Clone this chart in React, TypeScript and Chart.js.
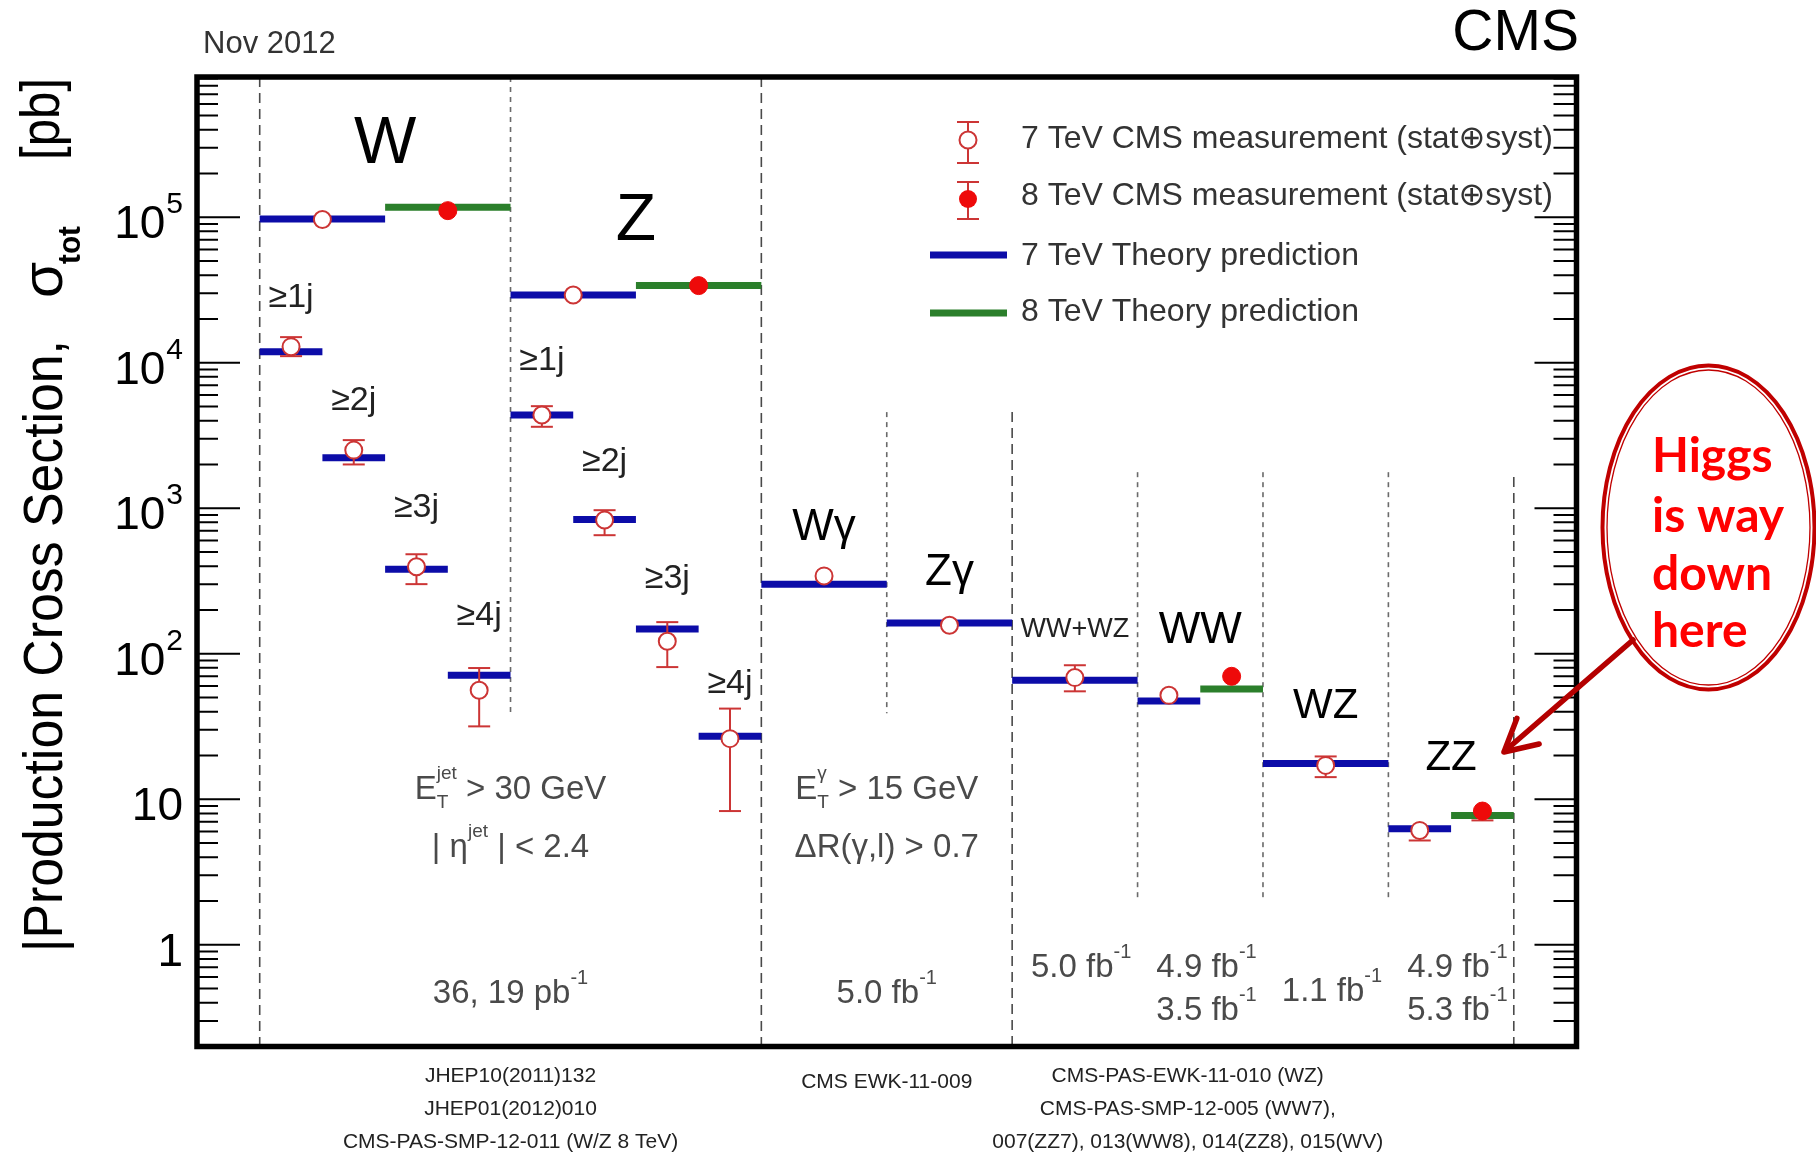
import React, { useEffect, useRef } from "react";
import { Chart, registerables } from "chart.js";

Chart.register(...registerables);

const SANS = '"Liberation Sans", Arial, Helvetica, "DejaVu Sans", sans-serif';

// ---------------- data ----------------
// x is measured in half-slot units: W/Z jet bins are 1 wide, diboson slots are 2 wide.
const processNames7 = ["W", "W ≥1j", "W ≥2j", "W ≥3j", "W ≥4j", "Z", "Z ≥1j", "Z ≥2j", "Z ≥3j", "Z ≥4j", "Wγ", "Zγ", "WW+WZ", "WW", "WZ", "ZZ"];

// 7 TeV theory predictions [pb] and the x range they span
const theory7Lo = [0, 0, 1, 2, 3, 4, 4, 5, 6, 7, 8, 10, 12, 14, 16, 18];
const theory7Hi = [2, 1, 2, 3, 4, 6, 5, 6, 7, 8, 10, 12, 14, 15, 18, 19];
const theory7Value = [9.73e4, 1.19e4, 2.22e3, 381, 71.1, 2.92e4, 4.37e3, 837, 148, 27.1, 301, 163, 65.8, 47.3, 17.6, 6.28];

// 7 TeV CMS measurements [pb] with stat+syst bounds
const meas7X = [1, 0.5, 1.5, 2.5, 3.5, 5, 4.5, 5.5, 6.5, 7.5, 9, 11, 13, 14.5, 17, 18.5];
const meas7Value = [9.65e4, 1.29e4, 2.51e3, 396, 56.1, 2.92e4, 4.37e3, 830, 122, 26.1, 343, 157, 68.6, 51.8, 17.1, 6.11];
const meas7Low = [9.3e4, 1.11e4, 2.0e3, 301, 31.7, 2.83e4, 3.63e3, 653, 81, 8.3, 312, 141, 55.2, 46.6, 14.2, 5.21];
const meas7High = [1.0e5, 1.5e4, 2.94e3, 483, 79.8, 3.02e4, 5.03e3, 970, 165, 42, 375, 175, 83.4, 57.7, 19.7, 6.97];

// 8 TeV
const processNames8 = ["W", "Z", "WW", "ZZ"];
const theory8Lo = [2, 6, 15, 19];
const theory8Hi = [4, 8, 16, 20];
const theory8Value = [1.17e5, 3.39e4, 57.3, 7.75];
const meas8X = [3, 7, 15.5, 19.5];
const meas8Value = [1.11e5, 3.39e4, 70, 8.3];
const meas8Low = [1.07e5, 3.3e4, 61.7, 7.16];
const meas8High = [1.15e5, 3.5e4, 79, 9.57];

// y axis labels (base, exponent)
const yTickValues = [1, 10, 100, 1e3, 1e4, 1e5];
const yTickBase = ["1", "10", "10", "10", "10", "10"];
const yTickExp = ["", "", "2", "3", "4", "5"];

const Y_MIN = 0.2;
const Y_MAX = 9.2e5;

// ---------------- decoration tables ----------------
const COL_BLUE = "#0c0ca8";
const COL_GREEN = "#2b7f2b";
const COL_RED_LINE = "#cc3535";
const COL_RED_FILL = "#ee0a0a";

// slot separators: null top/bottom means the frame edge
const separators = [
  { x: 0, top: null, bottom: null, dashed: true },
  { x: 4, top: null, bottom: 39, dashed: false },
  { x: 8, top: null, bottom: null, dashed: true },
  { x: 10, top: 4.58e3, bottom: 39, dashed: false },
  { x: 12, top: 4.58e3, bottom: null, dashed: true },
  { x: 14, top: 1.77e3, bottom: 2.05, dashed: false },
  { x: 16, top: 1.77e3, bottom: 2.05, dashed: false },
  { x: 18, top: 1.77e3, bottom: 2.05, dashed: false },
  { x: 20, top: 1.64e3, bottom: null, dashed: true },
];

const processLabels = [
  { text: "W", x: 2, y: 2.37e5, size: 66, color: "#000" },
  { text: "Z", x: 6, y: 6.98e4, size: 66, color: "#000" },
  { text: "≥1j", x: 0.5, y: 2.42e4, size: 34, color: "#222" },
  { text: "≥2j", x: 1.5, y: 4.74e3, size: 34, color: "#222" },
  { text: "≥3j", x: 2.5, y: 871, size: 34, color: "#222" },
  { text: "≥4j", x: 3.5, y: 157, size: 34, color: "#222" },
  { text: "≥1j", x: 4.5, y: 8.93e3, size: 34, color: "#222" },
  { text: "≥2j", x: 5.5, y: 1.8e3, size: 34, color: "#222" },
  { text: "≥3j", x: 6.5, y: 282, size: 34, color: "#222" },
  { text: "≥4j", x: 7.5, y: 53.6, size: 34, color: "#222" },
  { text: "Wγ", x: 9, y: 604, size: 44, color: "#000" },
  { text: "Zγ", x: 11, y: 296, size: 44, color: "#000" },
  { text: "WW+WZ", x: 13, y: 130, size: 27, color: "#222" },
  { text: "WW", x: 15, y: 118, size: 44, color: "#000" },
  { text: "WZ", x: 17, y: 36, size: 42, color: "#000" },
  { text: "ZZ", x: 19, y: 15.8, size: 42, color: "#000" },
];

type Part =
  | { t: string; size: number; dy?: number; weight?: string }
  | { sub: string; sup: string; size: number; subDy: number; supDy: number };

const A = 33; // annotation font size
const sup1 = (s: string): Part => ({ t: s, size: 20, dy: -19 });

const cutNotes: { x: number; y: number; parts: Part[] }[] = [
  { x: 4, y: 10.1, parts: [{ t: "E", size: A }, { sub: "T", sup: "jet", size: 19, subDy: 9, supDy: -20 }, { t: " > 30 GeV", size: A }] },
  { x: 4, y: 3.99, parts: [{ t: "| η", size: A }, { t: "jet", size: 19, dy: -20 }, { t: " | < 2.4", size: A }] },
  { x: 4, y: 0.4, parts: [{ t: "36, 19 pb", size: A }, sup1("-1")] },
  { x: 10, y: 10.1, parts: [{ t: "E", size: A }, { sub: "T", sup: "γ", size: 19, subDy: 9, supDy: -20 }, { t: " > 15 GeV", size: A }] },
  { x: 10, y: 3.99, parts: [{ t: "ΔR(γ,l) > 0.7", size: A }] },
  { x: 10, y: 0.4, parts: [{ t: "5.0 fb", size: A }, sup1("-1")] },
  { x: 13.1, y: 0.597, parts: [{ t: "5.0 fb", size: A }, sup1("-1")] },
  { x: 15.1, y: 0.597, parts: [{ t: "4.9 fb", size: A }, sup1("-1")] },
  { x: 15.1, y: 0.302, parts: [{ t: "3.5 fb", size: A }, sup1("-1")] },
  { x: 17.1, y: 0.414, parts: [{ t: "1.1 fb", size: A }, sup1("-1")] },
  { x: 19.1, y: 0.597, parts: [{ t: "4.9 fb", size: A }, sup1("-1")] },
  { x: 19.1, y: 0.302, parts: [{ t: "5.3 fb", size: A }, sup1("-1")] },
];

const references = [
  { x: 4, dy: 35.5, text: "JHEP10(2011)132" },
  { x: 4, dy: 68.5, text: "JHEP01(2012)010" },
  { x: 4, dy: 101.5, text: "CMS-PAS-SMP-12-011 (W/Z 8 TeV)" },
  { x: 10, dy: 41.5, text: "CMS EWK-11-009" },
  { x: 14.8, dy: 35.5, text: "CMS-PAS-EWK-11-010 (WZ)" },
  { x: 14.8, dy: 68.5, text: "CMS-PAS-SMP-12-005 (WW7)," },
  { x: 14.8, dy: 101.5, text: "007(ZZ7), 013(WW8), 014(ZZ8), 015(WV)" },
];

const calloutLines = ["Higgs", "is way", "down", "here"];

// ---------------- drawing helpers ----------------
const font = (size: number, weight = "normal") => `${weight} ${size}px ${SANS}`;

function partWidth(ctx: CanvasRenderingContext2D, p: any) {
  if ("t" in p) {
    ctx.font = font(p.size, p.weight);
    return ctx.measureText(p.t).width;
  }
  ctx.font = font(p.size);
  return Math.max(ctx.measureText(p.sub).width, ctx.measureText(p.sup).width);
}

function drawRich(ctx: CanvasRenderingContext2D, parts: Part[], x: number, y: number, align: string, color: string) {
  const widths = parts.map((p) => partWidth(ctx, p));
  const total = widths.reduce((a, b) => a + b, 0);
  let cx = align === "center" ? x - total / 2 : align === "right" ? x - total : x;
  ctx.fillStyle = color;
  ctx.textAlign = "left";
  ctx.textBaseline = "alphabetic";
  parts.forEach((p: any, i) => {
    if ("t" in p) {
      ctx.font = font(p.size, p.weight);
      ctx.fillText(p.t, cx, y + (p.dy || 0));
    } else {
      ctx.font = font(p.size);
      ctx.fillText(p.sub, cx, y + p.subDy);
      ctx.fillText(p.sup, cx, y + p.supDy);
    }
    cx += widths[i];
  });
}

function drawFitted(ctx: CanvasRenderingContext2D, text: string, x: number, y: number, width: number, f: string) {
  ctx.font = f;
  const w = ctx.measureText(text).width;
  ctx.save();
  ctx.translate(x, y);
  ctx.scale(width / w, 1);
  ctx.textAlign = "left";
  ctx.fillText(text, 0, 0);
  ctx.restore();
}

function errorBar(ctx: CanvasRenderingContext2D, x: number, yHi: number, yLo: number, yMid: number, r: number) {
  ctx.beginPath();
  ctx.moveTo(x, yHi);
  ctx.lineTo(x, yLo);
  ctx.stroke();
  const cap = 11;
  if (yMid - yHi > r) {
    ctx.beginPath();
    ctx.moveTo(x - cap, yHi);
    ctx.lineTo(x + cap, yHi);
    ctx.stroke();
  }
  if (yLo - yMid > r) {
    ctx.beginPath();
    ctx.moveTo(x - cap, yLo);
    ctx.lineTo(x + cap, yLo);
    ctx.stroke();
  }
}

function segmentPoints(lo: number[], hi: number[], val: number[]) {
  const pts: { x: number; y: number | null }[] = [];
  lo.forEach((l, i) => {
    pts.push({ x: l, y: val[i] }, { x: hi[i], y: val[i] }, { x: hi[i], y: null });
  });
  return pts;
}

const plotDecor = {
  id: "plotDecor",
  beforeDatasetsDraw(chart: any) {
    const { ctx, chartArea: a, scales } = chart;
    const xs = scales.x;
    const ys = scales.y;
    ctx.save();
    ctx.fillStyle = "#fff";
    ctx.fillRect(0, 0, chart.width, chart.height);
    separators.forEach((s) => {
      const px = xs.getPixelForValue(s.x);
      const top = s.top == null ? a.top : ys.getPixelForValue(s.top);
      const bottom = s.bottom == null ? a.bottom : ys.getPixelForValue(s.bottom);
      ctx.strokeStyle = s.dashed ? "#4a4a4a" : "#6a6a6a";
      ctx.lineWidth = 1.6;
      ctx.setLineDash(s.dashed ? [10, 6] : [5, 5]);
      ctx.beginPath();
      ctx.moveTo(px, top);
      ctx.lineTo(px, bottom);
      ctx.stroke();
    });
    ctx.restore();
  },
  beforeDatasetDraw(chart: any, args: any) {
    const ds: any = chart.data.datasets[args.index];
    if (!ds.errLow) return;
    const { ctx, scales } = chart;
    const xs = scales.x;
    const ys = scales.y;
    ctx.save();
    ctx.strokeStyle = COL_RED_LINE;
    ctx.lineWidth = 2;
    ds.data.forEach((p: any, i: number) => {
      errorBar(
        ctx,
        xs.getPixelForValue(p.x),
        ys.getPixelForValue(ds.errHigh[i]),
        ys.getPixelForValue(ds.errLow[i]),
        ys.getPixelForValue(p.y),
        ds.pointRadius
      );
    });
    ctx.restore();
  },
  afterDatasetsDraw(chart: any) {
    const { ctx, chartArea: a, scales } = chart;
    const xs = scales.x;
    const ys = scales.y;
    ctx.save();

    // frame
    ctx.strokeStyle = "#000";
    ctx.lineWidth = 5.5;
    ctx.strokeRect(a.left, a.top, a.right - a.left, a.bottom - a.top);

    // log ticks on both vertical edges, pointing inwards
    ctx.lineWidth = 2;
    for (let k = -1; k <= 6; k++) {
      for (let m = 1; m <= 9; m++) {
        const v = m * Math.pow(10, k);
        if (v < Y_MIN || v > Y_MAX) continue;
        const py = ys.getPixelForValue(v);
        const left = m === 1 ? 43 : 21;
        const right = m === 1 ? 42 : 23;
        ctx.beginPath();
        ctx.moveTo(a.left, py);
        ctx.lineTo(a.left + left, py);
        ctx.moveTo(a.right, py);
        ctx.lineTo(a.right - right, py);
        ctx.stroke();
      }
    }

    // tick labels
    ctx.fillStyle = "#000";
    ctx.textBaseline = "alphabetic";
    yTickValues.forEach((v, i) => {
      const py = ys.getPixelForValue(v);
      const rx = a.left - 14;
      let baseRight = rx;
      if (yTickExp[i]) {
        ctx.font = font(30);
        ctx.textAlign = "right";
        ctx.fillText(yTickExp[i], rx, py - 4);
        baseRight = rx - ctx.measureText(yTickExp[i]).width - 1;
      }
      ctx.font = font(46);
      ctx.textAlign = "right";
      ctx.fillText(yTickBase[i], baseRight, py + 21);
    });

    // y axis title, rotated
    ctx.save();
    ctx.translate(62, 0);
    ctx.rotate(-Math.PI / 2);
    ctx.fillStyle = "#000";
    drawFitted(ctx, "|Production Cross Section,", -952, 0, 612, font(56));
    drawFitted(ctx, "σ", -298, 0, 36, font(58));
    drawFitted(ctx, "tot", -264, 18, 38, font(32, "bold"));
    drawFitted(ctx, "[pb]", -160, -3, 82, font(56));
    ctx.restore();

    // header
    ctx.fillStyle = "#333";
    ctx.font = font(31);
    ctx.textAlign = "left";
    ctx.fillText("Nov 2012", a.left + 6, 53);
    ctx.fillStyle = "#000";
    ctx.font = font(57);
    ctx.textAlign = "right";
    ctx.fillText("CMS", 1579, 50);

    // process labels
    ctx.textAlign = "center";
    processLabels.forEach((l) => {
      ctx.fillStyle = l.color;
      ctx.font = font(l.size);
      ctx.fillText(l.text, xs.getPixelForValue(l.x), ys.getPixelForValue(l.y));
    });

    // selection cuts and luminosities
    cutNotes.forEach((n) => {
      drawRich(ctx, n.parts, xs.getPixelForValue(n.x), ys.getPixelForValue(n.y), "center", "#4a4a4a");
    });

    // references below the frame
    ctx.fillStyle = "#222";
    ctx.font = font(21);
    ctx.textAlign = "center";
    references.forEach((r) => {
      ctx.fillText(r.text, xs.getPixelForValue(r.x), a.bottom + r.dy);
    });

    // legend
    const lx = 968;
    ctx.strokeStyle = COL_RED_LINE;
    ctx.lineWidth = 2;
    errorBar(ctx, lx, 122, 163, 140, 0);
    ctx.beginPath();
    ctx.arc(lx, 140, 8.5, 0, Math.PI * 2);
    ctx.fillStyle = "#fff";
    ctx.fill();
    ctx.stroke();
    errorBar(ctx, lx, 182, 219, 199, 0);
    ctx.beginPath();
    ctx.arc(lx, 199, 9, 0, Math.PI * 2);
    ctx.fillStyle = COL_RED_FILL;
    ctx.fill();
    ctx.lineWidth = 7;
    ctx.strokeStyle = COL_BLUE;
    ctx.beginPath();
    ctx.moveTo(930, 255);
    ctx.lineTo(1007, 255);
    ctx.stroke();
    ctx.strokeStyle = COL_GREEN;
    ctx.beginPath();
    ctx.moveTo(930, 313);
    ctx.lineTo(1007, 313);
    ctx.stroke();
    ctx.fillStyle = "#333";
    ctx.font = font(32);
    ctx.textAlign = "left";
    ctx.fillText("7 TeV CMS measurement (stat⊕syst)", 1021, 148);
    ctx.fillText("8 TeV CMS measurement (stat⊕syst)", 1021, 205);
    ctx.fillText("7 TeV Theory prediction", 1021, 265);
    ctx.fillText("8 TeV Theory prediction", 1021, 321);

    ctx.restore();
  },
  afterDraw(chart: any) {
    const { ctx } = chart;
    ctx.save();
    // speech bubble
    ctx.beginPath();
    ctx.ellipse(1708.5, 527.5, 106, 162, 0, 0, Math.PI * 2);
    ctx.fillStyle = "#fff";
    ctx.fill();
    ctx.strokeStyle = "#c00000";
    ctx.lineWidth = 4;
    ctx.stroke();
    ctx.beginPath();
    ctx.ellipse(1708.5, 527.5, 101.5, 157.5, 0, 0, Math.PI * 2);
    ctx.lineWidth = 1.3;
    ctx.stroke();

    ctx.fillStyle = "#ff0000";
    ctx.font = `bold 48px Lato, "Open Sans", sans-serif`;
    ctx.textAlign = "left";
    const base = [472, 532, 590, 647];
    calloutLines.forEach((t, i) => ctx.fillText(t, 1652, base[i]));

    // arrow
    const tipX = 1504;
    const tipY = 752;
    const tailX = 1633;
    const tailY = 640;
    ctx.strokeStyle = "#b40000";
    ctx.lineWidth = 5.5;
    ctx.lineCap = "round";
    ctx.beginPath();
    ctx.moveTo(tailX, tailY);
    ctx.lineTo(tipX + 2, tipY - 2);
    ctx.stroke();
    const ang = Math.atan2(tailY - tipY, tailX - tipX);
    const len = 36;
    ctx.beginPath();
    [ang - 0.49, ang + 0.49].forEach((th) => {
      ctx.moveTo(tipX, tipY);
      ctx.lineTo(tipX + len * Math.cos(th), tipY + len * Math.sin(th));
    });
    ctx.stroke();
    ctx.restore();
  },
};

export default function App() {
  const ref = useRef<HTMLCanvasElement>(null);

  useEffect(() => {
    const canvas = ref.current;
    if (!canvas) return;
    const chart = new Chart(canvas, {
      type: "line",
      data: {
        datasets: [
          {
            label: "7 TeV CMS measurement (stat⊕syst)",
            data: meas7X.map((x, i) => ({ x, y: meas7Value[i] })),
            showLine: false,
            pointRadius: 8.5,
            pointBorderWidth: 2,
            pointBorderColor: COL_RED_LINE,
            pointBackgroundColor: "#fff",
            order: 0,
            errLow: meas7Low,
            errHigh: meas7High,
          } as any,
          {
            label: "8 TeV CMS measurement (stat⊕syst)",
            data: meas8X.map((x, i) => ({ x, y: meas8Value[i] })),
            showLine: false,
            pointRadius: 9,
            pointBorderWidth: 1,
            pointBorderColor: COL_RED_FILL,
            pointBackgroundColor: COL_RED_FILL,
            order: 1,
            errLow: meas8Low,
            errHigh: meas8High,
          } as any,
          {
            label: "8 TeV Theory prediction",
            data: segmentPoints(theory8Lo, theory8Hi, theory8Value),
            borderColor: COL_GREEN,
            borderWidth: 7,
            borderCapStyle: "butt",
            pointRadius: 0,
            spanGaps: false,
            tension: 0,
            order: 3,
          } as any,
          {
            label: "7 TeV Theory prediction",
            data: segmentPoints(theory7Lo, theory7Hi, theory7Value),
            borderColor: COL_BLUE,
            borderWidth: 7,
            borderCapStyle: "butt",
            pointRadius: 0,
            spanGaps: false,
            tension: 0,
            order: 4,
          } as any,
        ],
      },
      options: {
        responsive: false,
        animation: false,
        devicePixelRatio: 1,
        events: [],
        layout: { padding: { left: 197, right: 239.5, top: 77, bottom: 107.5 } },
        plugins: { legend: { display: false }, tooltip: { enabled: false } },
        scales: {
          x: { type: "linear", min: -1, max: 21, display: false },
          y: { type: "logarithmic", min: Y_MIN, max: Y_MAX, display: false },
        },
      },
      plugins: [plotDecor],
    });
    return () => chart.destroy();
  }, []);

  return (
    <div style={{ position: "absolute", left: 0, top: 0, width: 1816, height: 1154, background: "#fff" }}>
      <canvas ref={ref} width={1816} height={1154} style={{ display: "block", width: 1816, height: 1154 }} />
    </div>
  );
}
